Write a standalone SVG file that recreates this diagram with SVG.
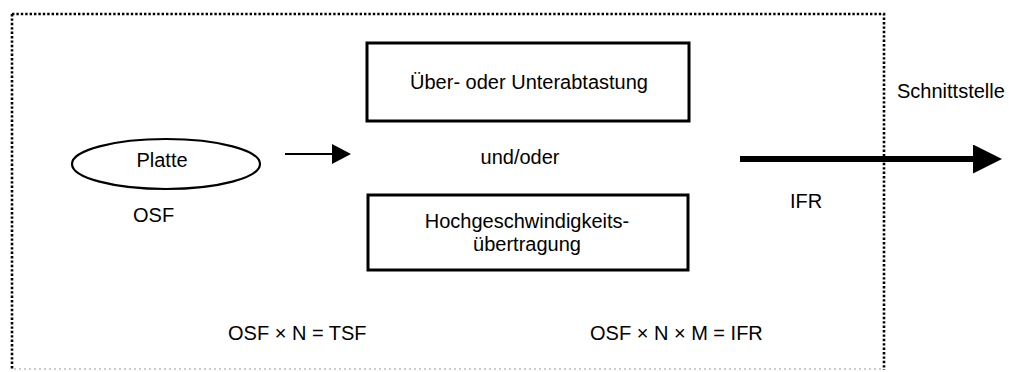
<svg xmlns="http://www.w3.org/2000/svg" width="1009" height="372" viewBox="0 0 1009 372">
  <style>
    text { font-family: "Liberation Sans", Arial, sans-serif; font-size: 20px; fill: #000; }
    .mid { text-anchor: middle; }
    .box { fill: #fff; stroke: #000; stroke-width: 3; }
    .frame { fill: none; stroke: #000; stroke-width: 2.6; stroke-dasharray: 2.4 2; }
    .frame-faint { fill: none; stroke: #999; stroke-width: 1.2; stroke-dasharray: 2 3; }
  </style>
  <defs>
    <marker id="headSmall" markerUnits="userSpaceOnUse" markerWidth="19" markerHeight="20" refX="0" refY="10" orient="auto">
      <path d="M0,0 L19,10 L0,20 Z" fill="#000"/>
    </marker>
    <marker id="headBig" markerUnits="userSpaceOnUse" markerWidth="29" markerHeight="29" refX="0" refY="14.5" orient="auto">
      <path d="M0,0 L29,14.5 L0,29 Z" fill="#000"/>
    </marker>
  </defs>

  <!-- system boundary (dotted frame) -->
  <g id="boundary">
    <path class="frame" d="M12,14 H884 V370"/>
    <path class="frame" d="M12,14 V370"/>
    <path class="frame-faint" d="M14,369 H882"/>
  </g>

  <!-- connectors -->
  <g id="connectors">
    <line x1="285" y1="154" x2="332" y2="154" stroke="#000" stroke-width="2" marker-end="url(#headSmall)"/>
    <line x1="740" y1="159" x2="973" y2="159" stroke="#000" stroke-width="6" marker-end="url(#headBig)"/>
  </g>

  <g id="platte">
    <ellipse cx="166" cy="164" rx="94" ry="25" fill="#fff" stroke="#000" stroke-width="2.2"/>
    <text class="mid" x="162" y="167">Platte</text>
  </g>

  <g id="osf-label">
    <text x="133" y="222">OSF</text>
  </g>

  <g id="abtastung">
    <rect class="box" x="367" y="43" width="322" height="78"/>
    <text class="mid" x="529" y="89">Über- oder Unterabtastung</text>
  </g>

  <g id="und-oder">
    <text class="mid" x="520" y="164">und/oder</text>
  </g>

  <g id="hochgeschwindigkeit">
    <rect class="box" x="368" y="195" width="320" height="75"/>
    <text class="mid" x="527" y="228">Hochgeschwindigkeits-</text>
    <text class="mid" x="527" y="251">übertragung</text>
  </g>

  <g id="ifr-label">
    <text x="790" y="208">IFR</text>
  </g>

  <g id="schnittstelle">
    <text x="897" y="98">Schnittstelle</text>
  </g>

  <g id="formulas">
    <text x="228" y="340">OSF × N = TSF</text>
    <text x="590" y="340">OSF × N × M = IFR</text>
  </g>
</svg>
